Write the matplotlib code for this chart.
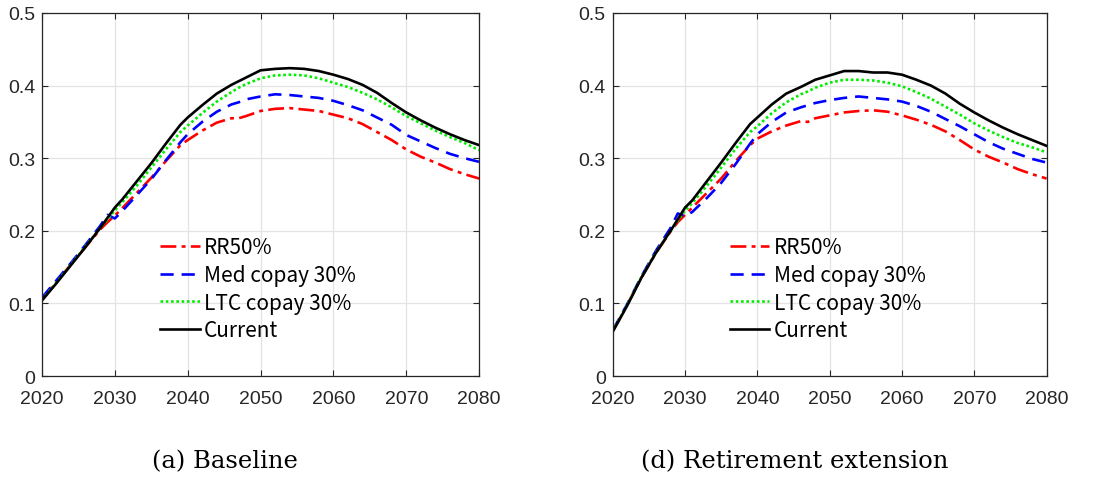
import matplotlib
matplotlib.use('Agg')
import matplotlib.pyplot as plt

years = [2020, 2022, 2024, 2026, 2028, 2029, 2030, 2031, 2033, 2035, 2037, 2039,
         2040, 2042, 2044, 2046, 2047, 2048, 2050, 2052, 2054, 2056, 2058, 2060,
         2062, 2064, 2066, 2068, 2070, 2072, 2074, 2076, 2078, 2080]

# (a) Baseline
base_rr = [.106, .130, .154, .178, .202, .212, .221, .231, .252, .273, .296, .318,
           .325, .338, .349, .355, .355, .358, .365, .368, .369, .367, .365, .360,
           .355, .347, .336, .325, .312, .302, .294, .285, .278, .272]
base_med = [.108, .132, .156, .181, .207, .222, .217, .227, .249, .271, .297, .322,
            .333, .350, .364, .374, .377, .381, .385, .388, .387, .385, .383, .379,
            .373, .366, .356, .346, .332, .323, .314, .306, .300, .295]
base_ltc = [.105, .129, .154, .179, .204, .216, .228, .239, .262, .287, .312, .336,
            .345, .362, .378, .391, .397, .402, .410, .414, .415, .414, .410, .404,
            .398, .390, .381, .370, .358, .348, .338, .329, .321, .311]
base_cur = [.104, .128, .153, .178, .204, .218, .232, .243, .268, .293, .320, .346,
            .356, .373, .389, .401, .406, .411, .421, .423, .424, .423, .420, .415,
            .409, .401, .390, .376, .363, .352, .342, .333, .325, .318]

# (d) Retirement extension
ret_rr = [.062, .098, .136, .170, .199, .212, .222, .232, .252, .272, .296, .318,
          .327, .337, .345, .351, .350, .355, .359, .363, .365, .366, .364, .359,
          .353, .346, .337, .325, .312, .302, .294, .285, .278, .272]
ret_med = [.063, .099, .138, .173, .204, .224, .220, .226, .245, .266, .292, .320,
           .333, .350, .363, .370, .373, .376, .380, .383, .385, .383, .381, .378,
           .372, .364, .354, .344, .333, .322, .313, .306, .299, .294]
ret_ltc = [.062, .098, .137, .171, .200, .214, .228, .238, .262, .287, .313, .336,
           .344, .362, .377, .388, .392, .397, .404, .408, .408, .407, .404, .399,
           .391, .382, .371, .360, .348, .338, .329, .321, .315, .308]
ret_cur = [.061, .097, .136, .170, .200, .216, .232, .242, .268, .294, .321, .347,
           .356, .374, .389, .398, .403, .408, .414, .420, .420, .418, .418, .415,
           .408, .400, .389, .375, .363, .352, .342, .333, .325, .317]

labels = ['RR50%', 'Med copay 30%', 'LTC copay 30%', 'Current']
captions = ['(a) Baseline', '(d) Retirement extension']

tick_font = ['Liberation Sans', 'DejaVu Sans']
legend_font = ['Noto Sans CJK JP', 'DejaVu Sans']

styles = [dict(color='red', ls=(0, (6, 2, 1.5, 2))),
          dict(color='blue', ls=(0, (5, 3))),
          dict(color='#00ee00', ls=(0, (1, 1))),
          dict(color='black', ls='-')]

fig = plt.figure(figsize=(11.04, 4.81), dpi=100)
positions = [[0.038, 0.216, 0.396, 0.755], [0.555, 0.216, 0.393, 0.755]]
caption_x = [0.204, 0.720]
panels = [[base_rr, base_med, base_ltc, base_cur],
          [ret_rr, ret_med, ret_ltc, ret_cur]]

for pos, series, cap, cx in zip(positions, panels, captions, caption_x):
    ax = fig.add_axes(pos)
    for vals, lab, st in zip(series, labels, styles):
        ax.plot(years, vals, lw=1.9, label=lab, **st)
    ax.set_xlim(2020, 2080)
    ax.set_ylim(0, 0.5)
    ax.set_xticks(range(2020, 2081, 10))
    ax.set_yticks([0, 0.1, 0.2, 0.3, 0.4, 0.5])
    ax.set_yticklabels(['0', '0.1', '0.2', '0.3', '0.4', '0.5'])
    ax.grid(True, color='#e3e3e3', lw=0.9)
    ax.set_axisbelow(True)
    ax.tick_params(direction='in', top=True, right=True, length=4,
                   color='#262626', labelsize=14)
    ax.tick_params(axis='x', pad=10)
    ax.tick_params(axis='y', pad=5)
    for lab in ax.get_xticklabels() + ax.get_yticklabels():
        lab.set_family(tick_font)
        lab.set_color('#262626')
    for sp in ax.spines.values():
        sp.set_color('#262626')
        sp.set_linewidth(0.9)
    ax.legend(loc='upper left', bbox_to_anchor=(0.27, 0.385), frameon=False,
              prop={'family': legend_font, 'size': 15}, handlelength=1.9,
              handletextpad=0.2, labelspacing=0.27, borderpad=0, borderaxespad=0)
    fig.text(cx, 0.04, cap, ha='center', va='center',
             fontsize=17.5, family=['DejaVu Serif'])

fig.savefig('out.png', dpi=100)
